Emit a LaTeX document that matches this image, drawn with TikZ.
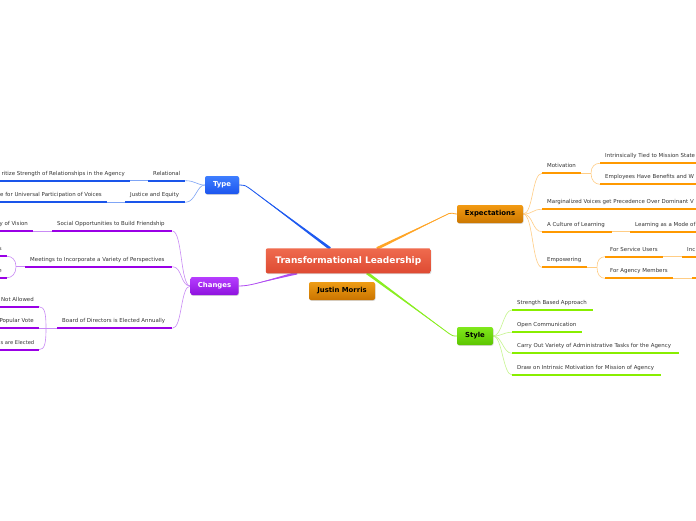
\documentclass[tikz,border=0pt]{standalone}
\usepackage{fontspec}
\setmainfont{DejaVu Sans}
\usetikzlibrary{calc,shadows,backgrounds}
\definecolor{txt}{HTML}{333333}
\definecolor{tyM}{HTML}{1E5AF0}\definecolor{tyT}{HTML}{7FA5F6}\definecolor{tyU}{HTML}{1A55EA}
\definecolor{tyA}{HTML}{3E7EFF}\definecolor{tyB}{HTML}{1C55EE}
\definecolor{chM}{HTML}{B04CF2}\definecolor{chT}{HTML}{C98BF5}\definecolor{chU}{HTML}{9A00E6}
\definecolor{chA}{HTML}{B63DFF}\definecolor{chB}{HTML}{8E12DE}
\definecolor{exM}{HTML}{FFA526}\definecolor{exT}{HTML}{FFCD85}\definecolor{exU}{HTML}{FF9900}
\definecolor{exA}{HTML}{F29A12}\definecolor{exB}{HTML}{CC7700}
\definecolor{stM}{HTML}{8AEE22}\definecolor{stT}{HTML}{C6F58E}\definecolor{stU}{HTML}{88EE00}
\definecolor{stA}{HTML}{80E81C}\definecolor{stB}{HTML}{5CC500}
\definecolor{ctA}{HTML}{EF6B4E}\definecolor{ctB}{HTML}{DE4A32}
\definecolor{jmA}{HTML}{EE9C14}\definecolor{jmB}{HTML}{CA7400}
\begin{document}
\begin{tikzpicture}[x=1pt,y=-1pt,
  lab/.style={font=\fontsize{5.45}{6.5}\selectfont, text=txt, inner xsep=5pt, inner ysep=0pt, text height=4.2pt, text depth=5.4pt},
  itL/.style={lab, anchor=south west, execute at begin node={\hbox to \dimexpr #1pt-10pt\relax\bgroup}, execute at end node={\hfil\egroup}},
  itR/.style={lab, anchor=south east, execute at begin node={\hbox to \dimexpr #1pt-10pt\relax\bgroup\hfil}, execute at end node={\egroup}},
  mbox/.style={rounded corners=2pt, minimum height=18pt, inner sep=0pt, font=\fontsize{6.9}{8}\selectfont\bfseries, drop shadow={shadow xshift=0.5pt, shadow yshift=-0.8pt, opacity=0.3}},
  uline/.style={line width=1.8pt},
  thin/.style={line width=0.6pt},
  main/.style={line width=0.8pt}]
\useasboundingbox (0,0) rectangle (696,520);
\clip (0,0) rectangle (696,520);

% boxes
\node[mbox, top color=ctA, bottom color=ctB, minimum width=165pt, minimum height=25pt, text=white, font=\fontsize{9}{10}\selectfont\bfseries] (center) at (348.3,260.8) {Transformational Leadership};
\node[mbox, top color=jmA, bottom color=jmB, minimum width=66pt, text=black] (justin) at (342,291) {Justin Morris};
\node[mbox, top color=tyA, bottom color=tyB, minimum width=34pt, text=white] (type) at (222,185) {Type};
\node[mbox, top color=chA, bottom color=chB, minimum width=48pt, text=white] (changes) at (214.5,286) {Changes};
\node[mbox, top color=exA, bottom color=exB, minimum width=66pt, text=black] (expect) at (490,214) {Expectations};
\node[mbox, top color=stA, bottom color=stB, minimum width=36pt, text=black] (style) at (475,336) {Style};

% Type items
\node[itR=150] (prio) at (130,180.7) {ritize Strength of Relationships in the Agency};
\node[itL=37] (rel) at (148,180.7) {Relational};
\node[itR=127] (univ) at (107,202.3) {e for Universal Participation of Voices};
\node[itL=60] (just) at (125,202.3) {Justice and Equity};

% Changes items
\node[itR=53] (vis) at (33,231) {y of Vision};
\node[itL=120] (soc) at (52,231) {Social Opportunities to Build Friendship};
\node[itR=27] (s1) at (7,256.3) {s};
\node[itR=27] (e1) at (7,277.7) {e};
\node[itL=147] (meet) at (25,266.7) {Meetings to Incorporate a Variety of Perspectives};
\node[itR=59] (na) at (39,306.7) {Not Allowed};
\node[itR=59] (pv) at (39,328.3) {Popular Vote};
\node[itR=59, inner xsep=4.5pt, font=\fontsize{5.2}{6.5}\selectfont] (ae) at (39,349.7) {s are Elected};
\node[itL=115] (board) at (57,328.3) {Board of Directors is Elected Annually};

% Expectations items
\node[itL=39] (mot) at (542,173.3) {Motivation};
\node[itL=110] (intr) at (600,163.3) {Intrinsically Tied to Mission State};
\node[itL=110] (emb) at (600,184.3) {Employees Have Benefits and W};
\node[itL=170] (marg) at (542,209.3) {Marginalized Voices get Precedence Over Dominant V};
\node[itL=70] (cul) at (542,231.7) {A Culture of Learning};
\node[itL=80] (lm) at (630,231.7) {Learning as a Mode of};
\node[itL=45] (empw) at (542,267.3) {Empowering};
\node[itL=58] (fsu) at (605,256.7) {For Service Users};
\node[itL=30] (inc) at (682,256.7) {Inc};
\node[itL=68] (fam) at (605,278.3) {For Agency Members};
\node[itL=20] (fam2) at (692,278.3) {};

% Style items
\node[itL=81] (sba) at (512,310) {Strength Based Approach};
\node[itL=70] (oc) at (512,332.3) {Open Communication};
\node[itL=167] (co) at (512,353.3) {Carry Out Variety of Administrative Tasks for the Agency};
\node[itL=149] (dr) at (512,375) {Draw on Intrinsic Motivation for Mission of Agency};

\coordinate (cTy) at (330,248.5);
\coordinate (kTy) at (249,188);
\coordinate (cEx) at (377,248.5);
\coordinate (kEx) at (449,213.5);
\coordinate (cCh) at (297,273);
\coordinate (kCh) at (256,283.5);
\coordinate (cSt) at (367,273);
\coordinate (kSt) at (449,333.5);
\coordinate (mb) at (16,266.7);
\coordinate (bb) at (46,328.3);
\coordinate (mbr) at (591,173.3);
\coordinate (ebr) at (597,267.3);

\begin{scope}[on background layer]
\fill[white] (0,0) rectangle (696,520);
% main connectors
\draw[main, draw=tyM] (type.east) .. controls +(6,0) and +(-2.4,-1.8) .. (kTy) -- (cTy);
\fill[tyM] (kTy) -- ($(cTy)+(0.85,-1.15)$) -- ($(cTy)+(-0.85,1.15)$) -- cycle;
\draw[main, draw=exM] (cEx) -- (kEx) .. controls +(3,-1.4) and +(-4,0) .. (expect.west);
\fill[exM] (kEx) -- ($(cEx)+(0.62,1.3)$) -- ($(cEx)+(-0.62,-1.3)$) -- cycle;
\draw[main, draw=chM] (cCh) -- (kCh) .. controls +(-6,1.5) and +(6,0) .. (changes.east);
\fill[chM] (kCh) -- ($(cCh)+(0.35,1.4)$) -- ($(cCh)+(-0.35,-1.4)$) -- cycle;
\draw[main, draw=stM] (cSt) -- (kSt) .. controls +(3,2.2) and +(-4,0) .. (style.west);
\fill[stM] (kSt) -- ($(cSt)+(0.85,-1.15)$) -- ($(cSt)+(-0.85,1.15)$) -- cycle;

% Type branch
\foreach \n in {rel,just} \draw[thin, tyT] (\n.south east) .. controls +(10,0) and +(-8,0) .. (type.west);
\draw[thin, tyT] (prio.south east) -- (rel.south west);
\draw[thin, tyT] (univ.south east) -- (just.south west);
\foreach \n in {prio,rel,univ,just} \draw[uline, tyU] (\n.south west) -- (\n.south east);

% Changes branch
\foreach \n in {soc,meet,board} \draw[thin, chT] (\n.south east) .. controls +(10,0) and +(-10,0) .. (changes.west);
\draw[thin, chT] (vis.south east) -- (soc.south west);
\draw[thin, chT] (meet.south west) -- (mb);
\draw[thin, chT] (mb) .. controls +(0,-7) and +(5,0) .. (s1.south east);
\draw[thin, chT] (mb) .. controls +(0,7) and +(5,0) .. (e1.south east);
\draw[thin, chT] (board.south west) -- (bb) -- (pv.south east);
\draw[thin, chT] (bb) .. controls +(0,-14) and +(6,0) .. (na.south east);
\draw[thin, chT] (bb) .. controls +(0,14) and +(6,0) .. (ae.south east);
\foreach \n in {vis,soc,s1,e1,meet,na,pv,ae,board} \draw[uline, chU] (\n.south west) -- (\n.south east);

% Expectations branch
\foreach \n in {mot,marg,cul,empw} \draw[thin, exT] (expect.east) .. controls +(10,0) and +(-10,0) .. (\n.south west);
\draw[thin, exT] (mot.south east) -- (mbr);
\draw[thin, exT] (mbr) .. controls +(0,-7) and +(-5,0) .. (intr.south west);
\draw[thin, exT] (mbr) .. controls +(0,7) and +(-5,0) .. (emb.south west);
\draw[thin, exT] (cul.south east) -- (lm.south west);
\draw[thin, exT] (empw.south east) -- (ebr);
\draw[thin, exT] (ebr) .. controls +(0,-7) and +(-5,0) .. (fsu.south west);
\draw[thin, exT] (ebr) .. controls +(0,7) and +(-5,0) .. (fam.south west);
\draw[thin, exT] (fsu.south east) -- (inc.south west);
\draw[thin, exT] (fam.south east) -- (fam2.south west);
\foreach \n in {mot,intr,emb,marg,cul,lm,empw,fsu,inc,fam,fam2} \draw[uline, exU] (\n.south west) -- (\n.south east);

% Style branch
\foreach \n in {sba,oc,co,dr} \draw[thin, stT] (style.east) .. controls +(9,0) and +(-9,0) .. (\n.south west);
\foreach \n in {sba,oc,co,dr} \draw[uline, stU] (\n.south west) -- (\n.south east);
\end{scope}
\end{tikzpicture}
\end{document}
